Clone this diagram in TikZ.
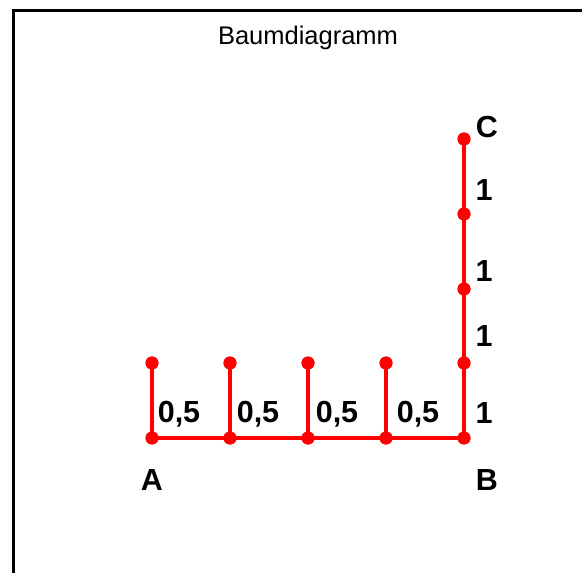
\documentclass[tikz,border=0pt]{standalone}
\usepackage{fontspec}
\setmainfont{Liberation Sans}
\begin{document}
\begin{tikzpicture}[x=1pt,y=-1pt,
  edge/.style={red, line width=4pt},
  pt/.style={circle, fill=red, inner sep=0pt, minimum size=13pt},
  lab/.style={font=\fontsize{30.5}{33}\selectfont\bfseries, inner sep=0pt},
  frame/.style={black, line width=3pt}]
\useasboundingbox (0,0) rectangle (582,573);
\fill[white] (0,0) rectangle (582,573);
\draw[frame] (13.5,573) -- (13.5,10.5) -- (582,10.5);
\node[font=\fontsize{25.5}{28}\selectfont, inner sep=0pt] (title) at (308,38) {Baumdiagramm};
% bottom row
\node[pt] (A) at (152,438) {};
\node[pt] (b2) at (230,438) {};
\node[pt] (b3) at (308,438) {};
\node[pt] (b4) at (386,438) {};
\node[pt] (B) at (464,438) {};
% top small branches
\node[pt] (t1) at (152,363) {};
\node[pt] (t2) at (230,363) {};
\node[pt] (t3) at (308,363) {};
\node[pt] (t4) at (386,363) {};
% vertical
\node[pt] (v1) at (464,363) {};
\node[pt] (v2) at (464,289) {};
\node[pt] (v3) at (464,214) {};
\node[pt] (C) at (464,139) {};
\draw[edge] (A.center) -- (b2.center) -- (b3.center) -- (b4.center) -- (B.center);
\draw[edge] (A.center) -- (t1.center);
\draw[edge] (b2.center) -- (t2.center);
\draw[edge] (b3.center) -- (t3.center);
\draw[edge] (b4.center) -- (t4.center);
\draw[edge] (B.center) -- (v1.center) -- (v2.center) -- (v3.center) -- (C.center);
\foreach \n in {A,b2,b3,b4,B,t1,t2,t3,t4,v1,v2,v3,C} \fill[red] (\n) circle (6.5pt);
% labels
\node[lab] (la) at (152,480) {A};
\node[lab] (lb) at (487,480) {B};
\node[lab] (lc) at (487,127) {C};
\node[lab] (h1) at (179,414) {0,5};
\node[lab] (h2) at (258,414) {0,5};
\node[lab] (h3) at (337,414) {0,5};
\node[lab] (h4) at (418,414) {0,5};
\node[lab] (w1) at (484,413) {1};
\node[lab] (w2) at (484,336) {1};
\node[lab] (w3) at (484,271) {1};
\node[lab] (w4) at (484,190) {1};
\end{tikzpicture}
\end{document}
